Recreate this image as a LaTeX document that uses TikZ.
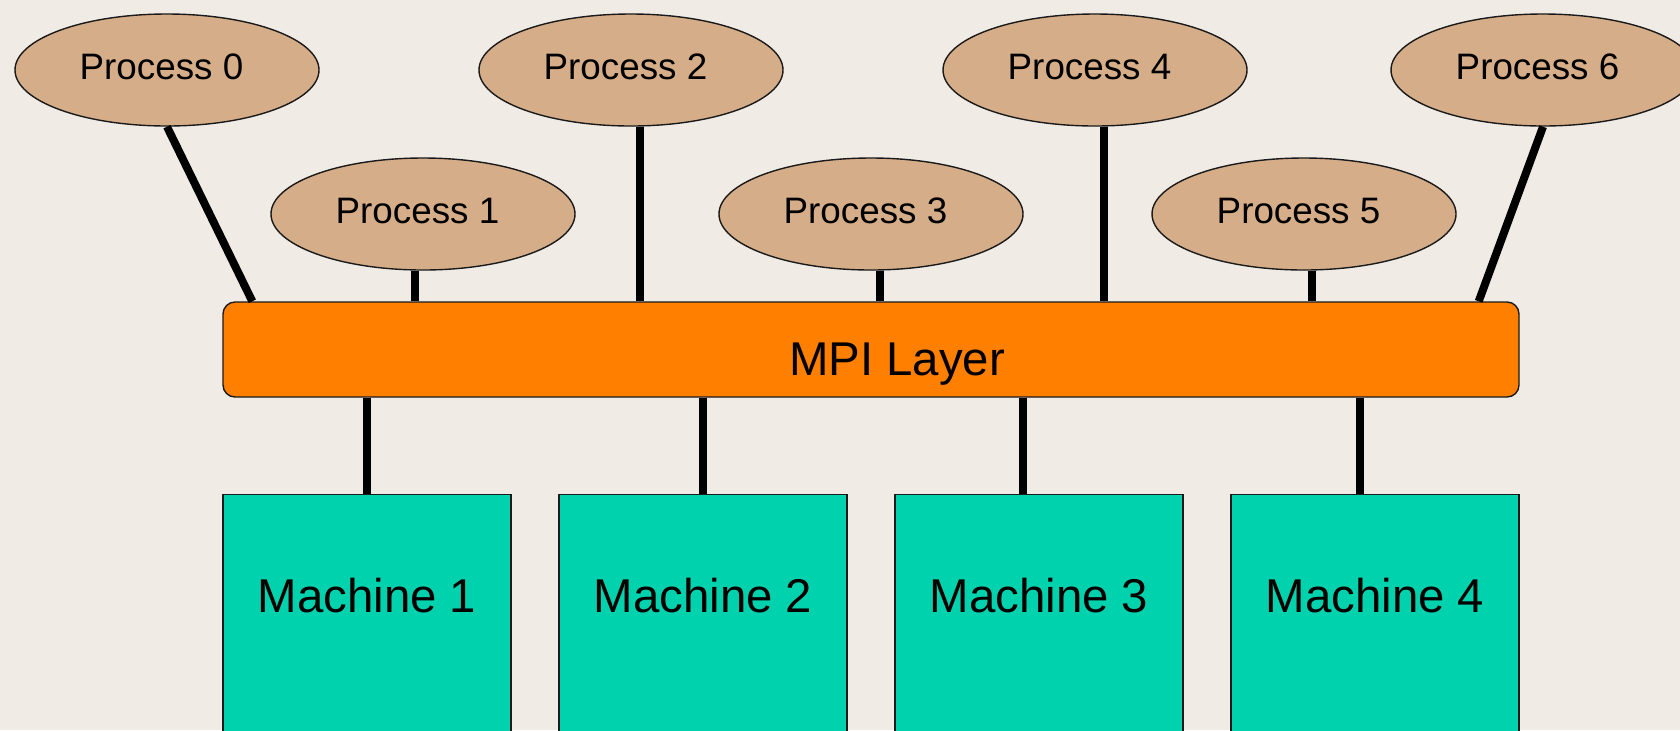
\documentclass[tikz,border=0pt]{standalone}
\usepackage{fontspec}
\setmainfont{Liberation Sans}
\usepackage{tikz}
\usetikzlibrary{shapes.geometric,positioning}
\definecolor{PageFill}{HTML}{F0EBE5}
\definecolor{ProcFill}{HTML}{D5AD88}
\definecolor{LayerFill}{HTML}{FF7F00}
\definecolor{HostFill}{HTML}{00D2AD}
\definecolor{EdgeInk}{HTML}{1A1A1A}
\tikzset{
  figure/.style={x=0.5pt,y=-0.5pt,text=black},
  proc/.style={ellipse,draw=EdgeInk,line width=0.7pt,fill=ProcFill,minimum width=152pt,minimum height=56pt,inner sep=0pt,text depth=3pt,font=\fontsize{18.4}{22}\selectfont,execute at end node={\kern5.5pt}},
  layer/.style={draw=EdgeInk,line width=0.7pt,rounded corners=6pt,fill=LayerFill,minimum width=648pt,minimum height=47.5pt,inner sep=0pt,text height=31pt,text depth=5pt,font=\fontsize{23.7}{28}\selectfont,execute at begin node={\kern26pt}},
  host/.style={draw=EdgeInk,line width=0.7pt,fill=HostFill,minimum width=144pt,inner sep=0pt,text height=59pt,text depth=70pt,anchor=north,font=\fontsize{23.7}{28}\selectfont},
  link/.style={line width=4pt,draw=black},
}

\begin{document}
\begin{tikzpicture}[figure]
  \useasboundingbox (0,0) rectangle (1680,730);
  \clip (0,0) rectangle (1680,730);
  \fill[PageFill] (0,0) rectangle (1680,730);

  \node[proc] (p0) at (167,70) {Process 0};
  \node[proc] (p1) at (423,214) {Process 1};
  \node[proc] (p2) at (631,70) {Process 2};
  \node[proc] (p3) at (871,214) {Process 3};
  \node[proc] (p4) at (1095,70) {Process 4};
  \node[proc] (p5) at (1304,214) {Process 5};
  \node[proc] (p6) at (1543,70) {Process 6};

  \node[layer] (mpi) at (871,349.5) {MPI Layer};

  \node[host] (m1) at (367,494) {Machine 1};
  \node[host] (m2) at (703,494) {Machine 2};
  \node[host] (m3) at (1039,494) {Machine 3};
  \node[host] (m4) at (1375,494) {Machine 4};

  \draw[link] (p0.south) -- ([xshift=15pt]mpi.north west);
  \draw[link] ([xshift=-4pt]p1.south) -- ([xshift=-4pt]p1.south |- mpi.north);
  \draw[link] ([xshift=4.5pt]p2.south) -- ([xshift=4.5pt]p2.south |- mpi.north);
  \draw[link] ([xshift=4.5pt]p3.south) -- ([xshift=4.5pt]p3.south |- mpi.north);
  \draw[link] ([xshift=4.5pt]p4.south) -- ([xshift=4.5pt]p4.south |- mpi.north);
  \draw[link] ([xshift=4pt]p5.south) -- ([xshift=4pt]p5.south |- mpi.north);
  \draw[link] (p6.south) -- ([xshift=-20.5pt]mpi.north east);

  \draw[link] (m1.north) -- (m1.north |- mpi.south);
  \draw[link] (m2.north) -- (m2.north |- mpi.south);
  \draw[link] ([xshift=-8pt]m3.north) -- ([xshift=-8pt]m3.north |- mpi.south);
  \draw[link] ([xshift=-7.5pt]m4.north) -- ([xshift=-7.5pt]m4.north |- mpi.south);
\end{tikzpicture}
\end{document}
